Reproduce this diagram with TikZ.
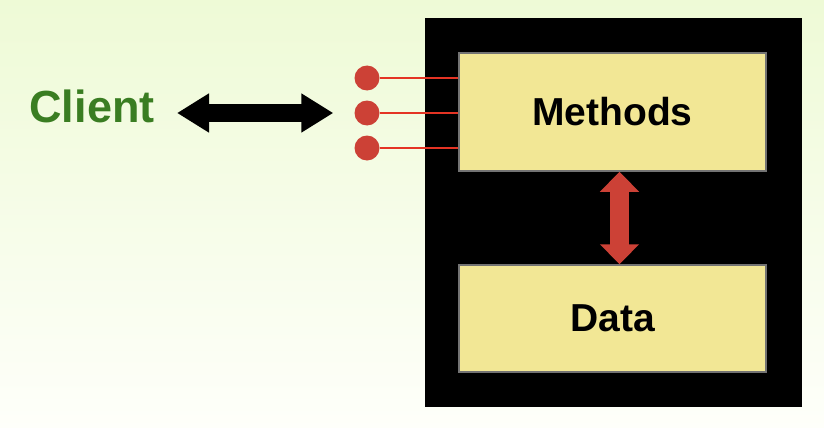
\documentclass[tikz,border=0pt]{standalone}
\usepackage{fontspec}
\setmainfont{Liberation Sans}
\usetikzlibrary{calc, positioning, arrows.meta}

\definecolor{bgtop}{RGB}{238,250,214}
\definecolor{bgbot}{RGB}{254,255,250}
\definecolor{boxyellow}{RGB}{242,231,149}
\definecolor{dotred}{RGB}{204,65,54}
\definecolor{wirered}{RGB}{228,52,36}
\definecolor{clientgreen}{RGB}{58,125,34}

\begin{document}
\begin{tikzpicture}[
        x=1pt, y=-1pt,
        part/.style={rectangle, draw=black!55, line width=1.5pt, fill=boxyellow,
                     minimum width=307pt, minimum height=118pt,
                     align=center, font=\fontsize{39}{44}\selectfont\bfseries},
        port/.style={circle, fill=dotred, minimum size=25pt, inner sep=0pt},
        wire/.style={wirered, line width=1.6pt},
        bigarrow/.style={line width=18pt, {Triangle[width=37pt, length=32pt]}-{Triangle[width=37pt, length=32pt]}},
        redarrow/.style={dotred, line width=19pt, {Triangle[width=38pt, length=20pt]}-{Triangle[width=38pt, length=20pt]}},
    ]
    % ====== 背景 ======
    \shade[top color=bgtop, bottom color=bgbot] (0,0) rectangle (824,428);
    \useasboundingbox (0,0) rectangle (824,428);

    % ====== 对象（右） ======
    \node[rectangle, fill=black, minimum width=377pt, minimum height=389pt, inner sep=0pt] (obj) at (613.5, 212.5) {};
    \node[part] (methods) at (612.5, 112) {Methods};
    \node[part, minimum height=107pt] (data) at (612.5, 318.5) {Data};

    % ====== 接口 ======
    \node[port] (p1) at (367, 78) {};
    \node[port] (p2) at (367, 113) {};
    \node[port] (p3) at (367, 148) {};
    \foreach \p in {p1, p2, p3}
        \draw[wire] (\p.east) -- (\p -| methods.west);

    % ====== 客户端（左） ======
    \node[font=\fontsize{45}{50}\selectfont\bfseries, text=clientgreen] (client) at (92, 106) {Client};

    % ====== 箭头 ======
    \draw[bigarrow, shorten <=19pt, shorten >=21pt] (client.east |- p2) -- (p2.west);
    \draw[redarrow] ([xshift=7pt]methods.south) -- ([xshift=7pt]data.north);

\end{tikzpicture}
\end{document}
